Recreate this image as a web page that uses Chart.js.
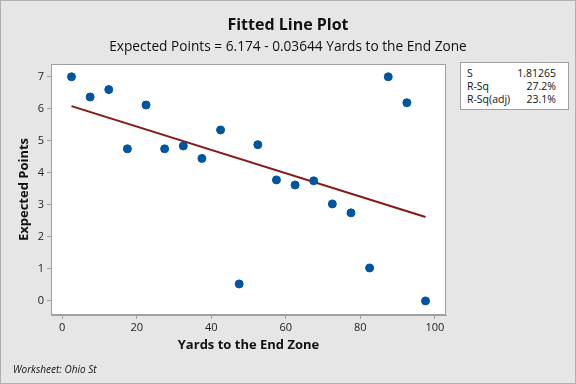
<!DOCTYPE html>
<html>
<head>
<meta charset="utf-8">
<script src="https://cdn.jsdelivr.net/npm/chart.js@4/dist/chart.umd.min.js"></script>
<style>
    html, body { margin: 0; padding: 0; background: #e6e6e6; }
    #wrap { position: relative; width: 576px; height: 384px; font-family: "Open Sans", sans-serif; color: #111; }
    #chart { position: absolute; left: 0; top: 0; }
    .title { position: absolute; left: 0; width: 576px; text-align: center; }
    #t1 { top: 13px; font-size: 16px; font-weight: bold; }
    #t2 { top: 36px; font-size: 13.7px; }
    #foot { position: absolute; left: 13px; top: 362px; font-size: 10px; font-style: italic; }
    #stats { position: absolute; left: 460px; top: 62px; width: 109px; height: 48px;
             background: #fff; border: 1px solid #a0a0a0; box-sizing: border-box;
             font-size: 10.5px; padding: 4px 12px 0 6px; }
    #stats div { display: flex; justify-content: space-between; line-height: 12.8px; }
</style>
</head>
<body>
<div id="wrap">
    <canvas id="chart" width="576" height="384"></canvas>
    <div class="title" id="t1">Fitted Line Plot</div>
    <div class="title" id="t2">Expected Points = 6.174 - 0.03644 Yards to the End Zone</div>
    <div id="stats"></div>
    <div id="foot">Worksheet: Ohio St</div>
</div>
<script>
// yards to the end zone (bin midpoints) and expected points
const yards = [2.5, 7.5, 12.5, 17.5, 22.5, 27.5, 32.5, 37.5, 42.5, 47.5,
               52.5, 57.5, 62.5, 67.5, 72.5, 77.5, 82.5, 87.5, 92.5, 97.5];
const points = [7.0, 6.37, 6.6, 4.75, 6.12, 4.75, 4.84, 4.45, 5.34, 0.53,
                4.88, 3.78, 3.62, 3.75, 3.03, 2.75, 1.03, 7.0, 6.19, 0.0];

// fitted line end points
const fit_x = [2.5, 97.5];
const fit_y = [6.083, 2.621];

const stat_labels = ['S', 'R-Sq', 'R-Sq(adj)'];
const stat_values = ['1.81265', '27.2%', '23.1%'];

const x_ticks = [0, 20, 40, 60, 80, 100];
const y_ticks = [0, 1, 2, 3, 4, 5, 6, 7];

var stats_box = document.getElementById('stats');
for (let i = 0; i < stat_labels.length; i++) {
    var row = document.createElement('div');
    var c1 = document.createElement('span');
    var c2 = document.createElement('span');
    c1.innerText = stat_labels[i];
    c2.innerText = stat_values[i];
    row.appendChild(c1);
    row.appendChild(c2);
    stats_box.appendChild(row);
}

const backdrop = {
    id: 'backdrop',
    beforeDraw(chart) {
        const ctx = chart.ctx;
        const a = chart.chartArea;
        ctx.save();
        ctx.fillStyle = '#e6e6e6';
        ctx.fillRect(0, 0, chart.width, chart.height);
        ctx.strokeStyle = '#b0b0b0';
        ctx.lineWidth = 1;
        ctx.strokeRect(0.5, 0.5, chart.width - 1, chart.height - 1);
        ctx.fillStyle = '#ffffff';
        ctx.fillRect(a.left, a.top, a.right - a.left, a.bottom - a.top);
        ctx.restore();
    },
    afterDraw(chart) {
        const ctx = chart.ctx;
        const a = chart.chartArea;
        ctx.save();
        ctx.strokeStyle = '#a0a0a0';
        ctx.lineWidth = 1;
        ctx.strokeRect(a.left + 0.5, a.top + 0.5, a.right - a.left - 1, a.bottom - a.top - 1);
        ctx.restore();
    }
};

var chrt = document.getElementById('chart').getContext('2d');
var chartId = new Chart(chrt, {
    data: {
        datasets: [{
            type: 'line',
            data: fit_x.map(function(x, i) { return {x: x, y: fit_y[i]}; }),
            borderColor: '#861818',
            borderWidth: 2,
            pointRadius: 0,
            fill: false,
            order: 2
        }, {
            type: 'scatter',
            data: yards.map(function(x, i) { return {x: x, y: points[i]}; }),
            backgroundColor: '#00559f',
            borderColor: '#00559f',
            pointRadius: 4,
            order: 1
        }]
    },
    options: {
        responsive: false,
        animation: false,
        layout: { padding: { top: 64, right: 130, left: 0, bottom: 0 } },
        plugins: { legend: { display: false }, tooltip: { enabled: false } },
        scales: {
            x: {
                type: 'linear',
                min: -3,
                max: 103,
                afterFit: function(scale) { scale.height = 69; },
                afterBuildTicks: function(scale) {
                    scale.ticks = x_ticks.map(function(v) { return {value: v}; });
                },
                grid: { drawOnChartArea: false, tickLength: 4, color: '#a0a0a0' },
                border: { color: '#a0a0a0' },
                ticks: { color: '#222', font: { family: 'Open Sans', size: 11 }, padding: 2 },
                title: {
                    display: true,
                    text: 'Yards to the End Zone',
                    color: '#111',
                    font: { family: 'Open Sans', size: 13, weight: 'bold' },
                    padding: { top: 0, bottom: 31 }
                }
            },
            y: {
                type: 'linear',
                min: -0.44,
                max: 7.4,
                afterFit: function(scale) { scale.width = 51; },
                afterBuildTicks: function(scale) {
                    scale.ticks = y_ticks.map(function(v) { return {value: v}; });
                },
                grid: { drawOnChartArea: false, tickLength: 4, color: '#a0a0a0' },
                border: { color: '#a0a0a0' },
                ticks: { color: '#222', font: { family: 'Open Sans', size: 11 }, padding: 3 },
                title: {
                    display: true,
                    text: 'Expected Points',
                    color: '#111',
                    font: { family: 'Open Sans', size: 13, weight: 'bold' },
                    padding: { top: 16, bottom: 0 }
                }
            }
        }
    },
    plugins: [backdrop]
});
</script>
</body>
</html>
